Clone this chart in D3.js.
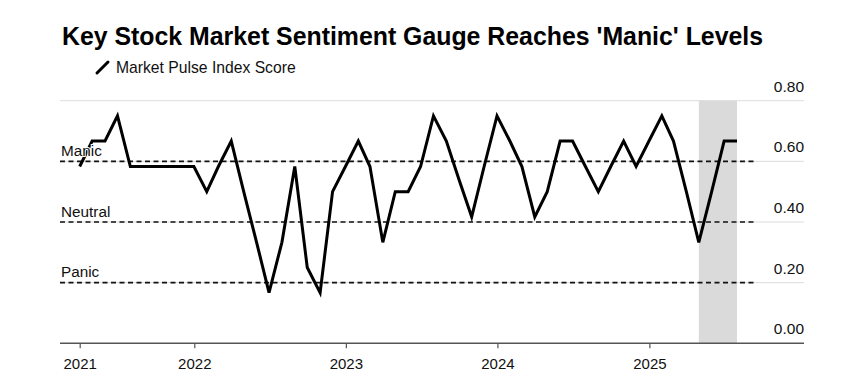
<!DOCTYPE html>
<html>
<head>
<meta charset="utf-8">
<script src="https://cdn.jsdelivr.net/npm/d3@7"></script>
<style>
  html, body { margin: 0; padding: 0; background: #fff; }
  svg { display: block; font-family: "Liberation Sans", Arial, Helvetica, sans-serif; }
</style>
</head>
<body>
<svg id="chart" width="857" height="392"></svg>
<script>
// ---- data ----
const months = [
  "2021-03","2021-04","2021-05","2021-06","2021-07","2021-08","2021-09","2021-10","2021-11","2021-12",
  "2022-01","2022-02","2022-03","2022-04","2022-05","2022-06","2022-07","2022-08","2022-09","2022-10","2022-11","2022-12",
  "2023-01","2023-02","2023-03","2023-04","2023-05","2023-06","2023-07","2023-08","2023-09","2023-10","2023-11","2023-12",
  "2024-01","2024-02","2024-03","2024-04","2024-05","2024-06","2024-07","2024-08","2024-09","2024-10","2024-11","2024-12",
  "2025-01","2025-02","2025-03","2025-04","2025-05","2025-06","2025-07"
];
const scores = [
  0.583,0.667,0.667,0.750,0.583,0.583,0.583,0.583,0.583,0.583,
  0.500,0.583,0.667,0.500,0.333,0.167,0.333,0.583,0.250,0.167,0.500,0.583,
  0.667,0.583,0.333,0.500,0.500,0.583,0.750,0.667,0.542,0.417,0.583,0.750,
  0.667,0.583,0.417,0.500,0.667,0.667,0.583,0.500,0.583,0.667,0.583,0.667,
  0.750,0.667,0.500,0.333,0.500,0.667,0.667
];
const seriesName = "Market Pulse Index Score";
const yTicks = [0, 0.2, 0.4, 0.6, 0.8];
const yTickLabels = ["0.00", "0.20", "0.40", "0.60", "0.80"];
const yearTickLabels = ["2021", "2022", "2023", "2024", "2025"];
const yearTickMonths = ["2021-03", "2022-01", "2023-01", "2024-01", "2025-01"];
const zoneLabels = ["Manic", "Neutral", "Panic"];
const zoneValues = [0.6, 0.4, 0.2];
const shadedMonths = ["2025-04", "2025-07"];
const titleText = "Key Stock Market Sentiment Gauge Reaches 'Manic' Levels";

// ---- helpers ----
const parseMonth = d3.timeParse("%Y-%m");
const monthEnd = s => d3.timeDay.offset(d3.timeMonth.offset(parseMonth(s), 1), -1);
const data = months.map((m, i) => ({ date: monthEnd(m), value: scores[i] }));

const svg = d3.select("#chart");
const plotLeft = 60, plotRight = 804, plotTop = 100.7, plotBottom = 343.3;

const x = d3.scaleTime()
  .domain(d3.extent(data, d => d.date))
  .range([79.7, 737]);
const y = d3.scaleLinear().domain([0, 0.8]).range([plotBottom, plotTop]);

// title
svg.append("text")
  .attr("x", 62).attr("y", 45)
  .attr("font-size", 25).attr("font-weight", "bold").attr("fill", "#000")
  .attr("textLength", 701).attr("lengthAdjust", "spacingAndGlyphs")
  .text(titleText);

// legend
svg.append("line")
  .attr("x1", 97).attr("y1", 73).attr("x2", 108).attr("y2", 62)
  .attr("stroke", "#000").attr("stroke-width", 3).attr("stroke-linecap", "round");
svg.append("text")
  .attr("x", 116).attr("y", 73.3)
  .attr("font-size", 15.7).attr("fill", "#111")
  .text(seriesName);

// shaded period
svg.append("rect")
  .attr("x", x(monthEnd(shadedMonths[0])))
  .attr("y", plotTop)
  .attr("width", x(monthEnd(shadedMonths[1])) - x(monthEnd(shadedMonths[0])))
  .attr("height", plotBottom - plotTop)
  .attr("fill", "#dadada");

// gridlines
svg.append("g").selectAll("line").data(yTicks.filter(v => v > 0)).join("line")
  .attr("x1", plotLeft).attr("x2", plotRight)
  .attr("y1", d => y(d)).attr("y2", d => y(d))
  .attr("stroke", "#dcdcdc").attr("stroke-width", 1);

// y labels
svg.append("g").selectAll("text").data(yTicks).join("text")
  .attr("x", 804).attr("y", d => y(d) - 9)
  .attr("text-anchor", "end")
  .attr("font-size", 15.5).attr("fill", "#111")
  .text((d, i) => yTickLabels[i]);

// zone dashed lines
svg.append("g").selectAll("line").data(zoneValues).join("line")
  .attr("x1", plotLeft).attr("x2", 755)
  .attr("y1", d => y(d)).attr("y2", d => y(d))
  .attr("stroke", "#111").attr("stroke-width", 1.6)
  .attr("stroke-dasharray", "5,3.5");

// x axis
const xAxis = d3.axisBottom(x)
  .tickValues(yearTickMonths.map((m, i) => i === 0 ? monthEnd(m) : parseMonth(m)))
  .tickFormat((d, i) => yearTickLabels[i])
  .tickSize(5).tickSizeOuter(0).tickPadding(10);
const gx = svg.append("g").attr("transform", `translate(0,${plotBottom})`).call(xAxis);
gx.select(".domain").remove();
gx.selectAll(".tick line").attr("stroke", "#555").attr("stroke-width", 1.2);
gx.selectAll(".tick text").attr("font-size", 15).attr("fill", "#111")
  .attr("font-family", "Liberation Sans, Arial, sans-serif");
svg.append("line")
  .attr("x1", plotLeft).attr("x2", plotRight)
  .attr("y1", plotBottom).attr("y2", plotBottom)
  .attr("stroke", "#555").attr("stroke-width", 1.5);

// line
svg.append("path")
  .datum(data)
  .attr("fill", "none").attr("stroke", "#000").attr("stroke-width", 3)
  .attr("stroke-linejoin", "miter").attr("stroke-miterlimit", 4)
  .attr("d", d3.line().x(d => x(d.date)).y(d => y(d.value)));

// zone labels (drawn over line with halo)
svg.append("g").selectAll("text").data(zoneValues).join("text")
  .attr("x", 61).attr("y", d => y(d) - 5.5)
  .attr("font-size", 15.3).attr("fill", "#111")
  .attr("stroke", "#fff").attr("stroke-width", 2).attr("paint-order", "stroke")
  .text((d, i) => zoneLabels[i]);
</script>
</body>
</html>
